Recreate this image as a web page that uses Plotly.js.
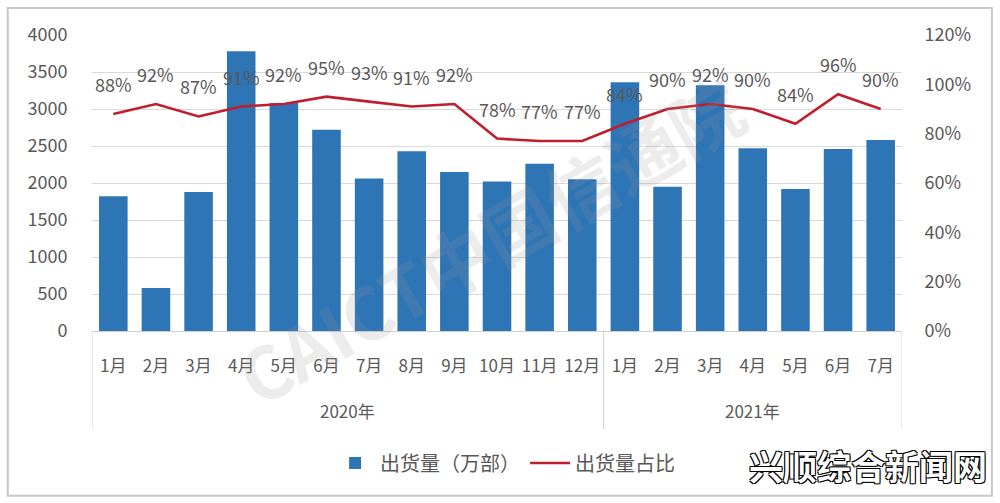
<!DOCTYPE html>
<html><head><meta charset="utf-8">
<script src="https://cdn.plot.ly/plotly-3.0.1.min.js"></script>
<style>html,body{margin:0;padding:0;background:#fff;}#chart{width:1000px;height:503px;}</style>
</head><body><div id="chart"></div>
<script>
const yearNames = ['2020年','2021年'];
const years = ['2020年','2020年','2020年','2020年','2020年','2020年','2020年','2020年','2020年','2020年','2020年','2020年',
               '2021年','2021年','2021年','2021年','2021年','2021年','2021年'];
const months = ['1月','2月','3月','4月','5月','6月','7月','8月','9月','10月','11月','12月',
                '1月','2月','3月','4月','5月','6月','7月'];
const shipments = [1820,580,1880,3780,3080,2720,2060,2430,2150,2020,2260,2050,
                   3360,1950,3320,2470,1920,2460,2580];
const shareRatio = [0.88,0.92,0.87,0.91,0.92,0.95,0.93,0.91,0.92,0.78,0.77,0.77,
                    0.84,0.90,0.92,0.90,0.84,0.96,0.90];
const shareLabels = ['88%','92%','87%','91%','92%','95%','93%','91%','92%','78%','77%','77%',
                     '84%','90%','92%','90%','84%','96%','90%'];

const FONT = '"Noto Sans CJK SC", "Noto Sans", sans-serif';
const GREY = '#595959';
const DIV = '#d0d0d0';

// unique category keys (year + month), shown with month text only
const cats = months.map((m,i)=>years[i]+'-'+m);

const traces = [
  {type:'bar', name:'出货量（万部）', x:cats, y:shipments,
   marker:{color:'#2E75B6'}, yaxis:'y'},
  {type:'scatter', mode:'lines', name:'出货量占比', x:cats, y:shareRatio,
   line:{color:'#BE1E2D', width:2.6}, yaxis:'y2'}
];

const annotations = shareRatio.map((v,i)=>({
  x:i, y:v, xref:'x', yref:'y2', text:shareLabels[i], showarrow:false,
  yshift:30, xanchor:'center', yanchor:'middle', font:{family:FONT, size:18, color:GREY}
}));

// year group labels and group dividers
const shapes = [];
let start = 0;
yearNames.forEach((yn)=>{
  const idx = years.map((y,i)=>y===yn?i:-1).filter(i=>i>=0);
  const first = idx[0], last = idx[idx.length-1];
  annotations.push({x:(first+last)/2, y:-0.27, xref:'x', yref:'paper', text:yn,
    showarrow:false, xanchor:'center', yanchor:'middle', font:{family:FONT, size:17, color:GREY}});
  shapes.push({type:'line', xref:'x', yref:'paper', x0:first-0.5, x1:first-0.5, y0:0, y1:-0.331,
    line:{color:DIV, width:1}});
  shapes.push({type:'line', xref:'x', yref:'paper', x0:last+0.5, x1:last+0.5, y0:0, y1:-0.331,
    line:{color:DIV, width:1}});
});

annotations.push({
  xref:'paper', yref:'paper', x:0.49, y:0.31, text:'CAICT中国信通院', showarrow:false,
  xanchor:'center', yanchor:'middle',
  textangle:-30, font:{family:FONT, size:72, color:'rgba(150,150,150,0.18)', weight:'bold'}
});
annotations.push({
  xref:'paper', yref:'paper', x:1.108, y:-0.455, xanchor:'right', yanchor:'middle',
  text:'兴顺综合新闻网', showarrow:false,
  font:{family:FONT, size:34, color:'#ffffff', weight:'bold',
        shadow:'-1px -1px 0 #000, 1px -1px 0 #000, -1px 1px 0 #000, 1px 1px 0 #000'}
});

shapes.push({type:'rect', xref:'paper', yref:'paper', x0:-0.104, x1:1.111, y0:-0.557, y1:1.091,
           line:{color:'#c8c8c8', width:2}, fillcolor:'rgba(0,0,0,0)'});

const layout = {
  width:1000, height:503,
  margin:{l:92, r:98, t:35, b:172},
  paper_bgcolor:'#fff', plot_bgcolor:'#fff',
  font:{family:FONT, color:GREY, size:17},
  showlegend:true,
  legend:{orientation:'h', x:0.51, xanchor:'center', y:-0.446, yanchor:'middle',
          itemwidth:40, font:{family:FONT, size:20, color:GREY}},
  bargap:0.33,
  xaxis:{type:'category', tickvals:cats, ticktext:months, showline:true, linecolor:DIV, linewidth:1,
         tickangle:0, ticks:'outside', ticklen:20, tickcolor:'rgba(0,0,0,0)',
         tickfont:{family:FONT, size:17, color:GREY}, showgrid:false, range:[-0.5, cats.length-0.5]},
  yaxis:{range:[0,4000], dtick:500, showgrid:true, gridcolor:'#d9d9d9', gridwidth:1,
         zeroline:false, showline:false, ticks:'outside', ticklen:20, tickcolor:'rgba(0,0,0,0)',
         tickfont:{family:FONT, size:18, color:GREY}},
  yaxis2:{range:[0,1.2], dtick:0.2, tickformat:'.0%', overlaying:'y', side:'right',
          showgrid:false, zeroline:false, showline:false, ticks:'outside', ticklen:18,
          tickcolor:'rgba(0,0,0,0)', tickfont:{family:FONT, size:18, color:GREY}},
  annotations:annotations,
  shapes:shapes
};

Plotly.newPlot('chart', traces, layout, {displayModeBar:false, responsive:false});
</script></body></html>
